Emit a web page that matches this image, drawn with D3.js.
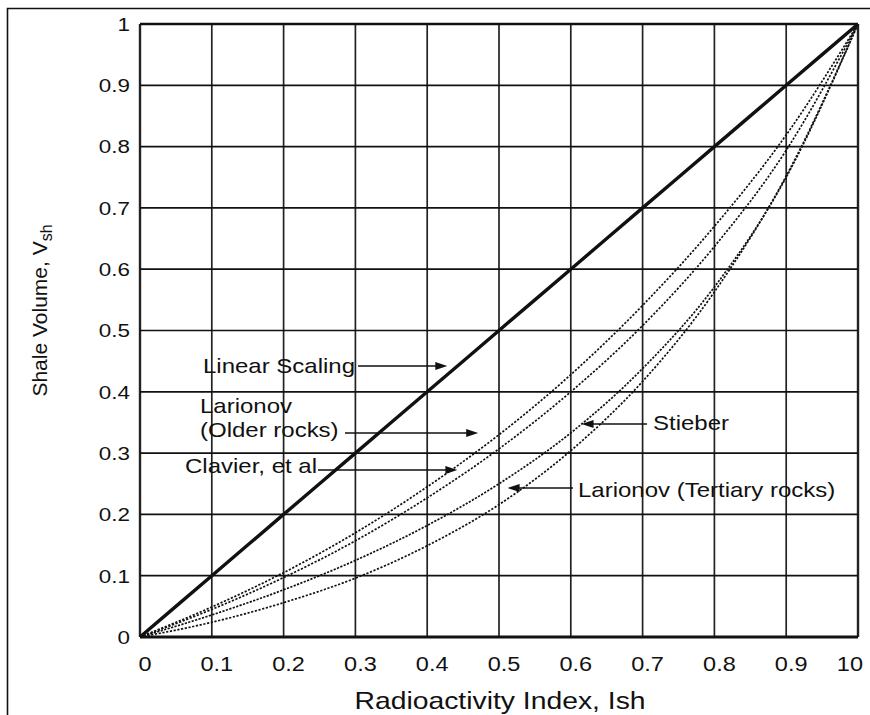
<!DOCTYPE html>
<html>
<head>
<meta charset="utf-8">
<script src="https://cdn.jsdelivr.net/npm/d3@7"></script>
<style>
  body { margin: 0; background: #fff; }
  text { font-family: 'Liberation Sans', Arial, sans-serif; fill: #111; }
</style>
</head>
<body>
<div id="chart"></div>
<script>
// values, Ish at every 0.1
const ish = [0, 0.1, 0.2, 0.3, 0.4, 0.5, 0.6, 0.7, 0.8, 0.9, 1.0]
const linearScaling = [0, 0.1, 0.2, 0.3, 0.4, 0.5, 0.6, 0.7, 0.8, 0.9, 1.0]
const larionovOlder = [0, 0.049, 0.105, 0.17, 0.245, 0.33, 0.428, 0.541, 0.67, 0.819, 1.0]
const clavier = [0, 0.045, 0.097, 0.157, 0.227, 0.307, 0.4, 0.508, 0.637, 0.794, 1.0]
const stieber = [0, 0.036, 0.077, 0.125, 0.182, 0.25, 0.333, 0.438, 0.571, 0.75, 1.0]
const larionovTertiary = [0, 0.024, 0.056, 0.096, 0.149, 0.216, 0.304, 0.417, 0.563, 0.752, 1.0]

const xTickLabels = ['0', '0.1', '0.2', '0.3', '0.4', '0.5', '0.6', '0.7', '0.8', '0.9', '10']
const yTickLabels = ['0', '0.1', '0.2', '0.3', '0.4', '0.5', '0.6', '0.7', '0.8', '0.9', '1']

const margin = { top: 24, left: 140, right: 12, bottom: 78 }
const width = 870 - margin.left - margin.right
const height = 715 - margin.top - margin.bottom

const root = d3
  .select('#chart')
  .append('svg')
  .attr('width', 870)
  .attr('height', 715)

// scan frame
root
  .append('path')
  .attr('d', 'M7.5,720 L7.5,8.5 L875,8.5')
  .attr('fill', 'none')
  .attr('stroke', '#111')
  .attr('stroke-width', 1.6)

const svg = root
  .append('g')
  .attr('transform', `translate(${margin.left},${margin.top})`)

const xScale = d3.scaleLinear().domain([0, 1]).range([0, width])
const yScale = d3.scaleLinear().domain([0, 1]).range([height, 0])

// grid
svg
  .selectAll('.vgrid')
  .data(ish)
  .enter()
  .append('line')
  .attr('x1', d => xScale(d))
  .attr('x2', d => xScale(d))
  .attr('y1', 0)
  .attr('y2', height)
  .attr('stroke', '#222')
  .attr('stroke-width', (d, i) => (i === 0 || i === 10 ? 2.4 : 1.7))

svg
  .selectAll('.hgrid')
  .data(ish)
  .enter()
  .append('line')
  .attr('x1', 0)
  .attr('x2', width)
  .attr('y1', d => yScale(d))
  .attr('y2', d => yScale(d))
  .attr('stroke', '#111')
  .attr('stroke-width', (d, i) => (i === 0 ? 3 : i === 10 ? 2.4 : 1.7))

// tick labels
svg
  .selectAll('.ylab')
  .data(yTickLabels)
  .enter()
  .append('text')
  .text(d => d)
  .attr('text-anchor', 'end')
  .attr('font-size', 19)
  .attr('transform', (d, i) => `translate(-10,${yScale(ish[i])}) scale(1.18,1)`)
  .attr('dy', '0.36em')

svg
  .selectAll('.xlab')
  .data(xTickLabels)
  .enter()
  .append('text')
  .text(d => d)
  .attr('text-anchor', (d, i) => (i === 10 ? 'end' : 'middle'))
  .attr('font-size', 21)
  .attr('transform', (d, i) => `translate(${xScale(ish[i]) + 5},${height + 34}) scale(1.12,1)`)

// axis titles
svg
  .append('text')
  .attr('text-anchor', 'middle')
  .attr('font-size', 24)
  .attr('transform', `translate(${width / 2 + 1},${height + 72}) scale(1.18,1)`)
  .text('Radioactivity Index, Ish')

const yTitle = svg
  .append('text')
  .attr('text-anchor', 'middle')
  .attr('font-size', 21)
  .attr('transform', `translate(-93,${yScale(0.5) - 20}) rotate(-90)`)
yTitle.append('tspan').text('Shale Volume, V')
yTitle.append('tspan').attr('font-size', 16).attr('dy', 5).text('sh')

// curves
const line = d3
  .line()
  .x((d, i) => xScale(ish[i]))
  .y(d => yScale(d))
  .curve(d3.curveMonotoneX)

const series = [
  { values: larionovOlder, dash: '2.2,1.6' },
  { values: clavier, dash: '2.2,1.6' },
  { values: stieber, dash: '2.2,1.4' },
  { values: larionovTertiary, dash: '2.2,1.6' }
]

svg
  .selectAll('.curve')
  .data(series)
  .enter()
  .append('path')
  .attr('d', d => line(d.values))
  .attr('fill', 'none')
  .attr('stroke', '#111')
  .attr('stroke-width', 1.7)
  .attr('stroke-dasharray', d => d.dash)

svg
  .append('path')
  .attr('d', line(linearScaling))
  .attr('fill', 'none')
  .attr('stroke', '#111')
  .attr('stroke-width', 3.4)

// labels with arrows, tip given in data units
const labels = [
  { lines: ['Linear Scaling'], x: 63, y: 349, from: 218, tip: [0.428, 0.44], ay: 342 },
  { lines: ['Larionov', '(Older rocks)'], x: 60, y: 389, from: 205, tip: [0.471, 0.333], ay: 409 },
  { lines: ['Clavier, et al'], x: 45, y: 449, from: 178, tip: [0.442, 0.273], ay: 446 },
  { lines: ['Stieber'], x: 513, y: 406, from: 507, tip: [0.615, 0.347], ay: 400, left: true },
  { lines: ['Larionov (Tertiary rocks)'], x: 438, y: 473, from: 433, tip: [0.512, 0.242], ay: 464, left: true }
]

const labelGroup = svg.selectAll('.label').data(labels).enter().append('g')

labelGroup
  .append('text')
  .attr('font-size', 20)
  .attr('transform', d => `translate(${d.x},${d.y}) scale(1.2,1)`)
  .selectAll('tspan')
  .data(d => d.lines)
  .enter()
  .append('tspan')
  .attr('x', 0)
  .attr('dy', (d, i) => (i === 0 ? 0 : 24))
  .text(d => d)

labelGroup.each(function(d) {
  const g = d3.select(this)
  const tx = xScale(d.tip[0])
  const dir = d.left ? 1 : -1
  g.append('line')
    .attr('x1', d.from)
    .attr('x2', tx + dir * 8)
    .attr('y1', d.ay)
    .attr('y2', d.ay)
    .attr('stroke', '#111')
    .attr('stroke-width', 1.6)
  g.append('path')
    .attr('d', `M${tx},${d.ay} L${tx + dir * 12},${d.ay - 4} L${tx + dir * 12},${d.ay + 4} Z`)
    .attr('fill', '#111')
})
</script>
</body>
</html>
